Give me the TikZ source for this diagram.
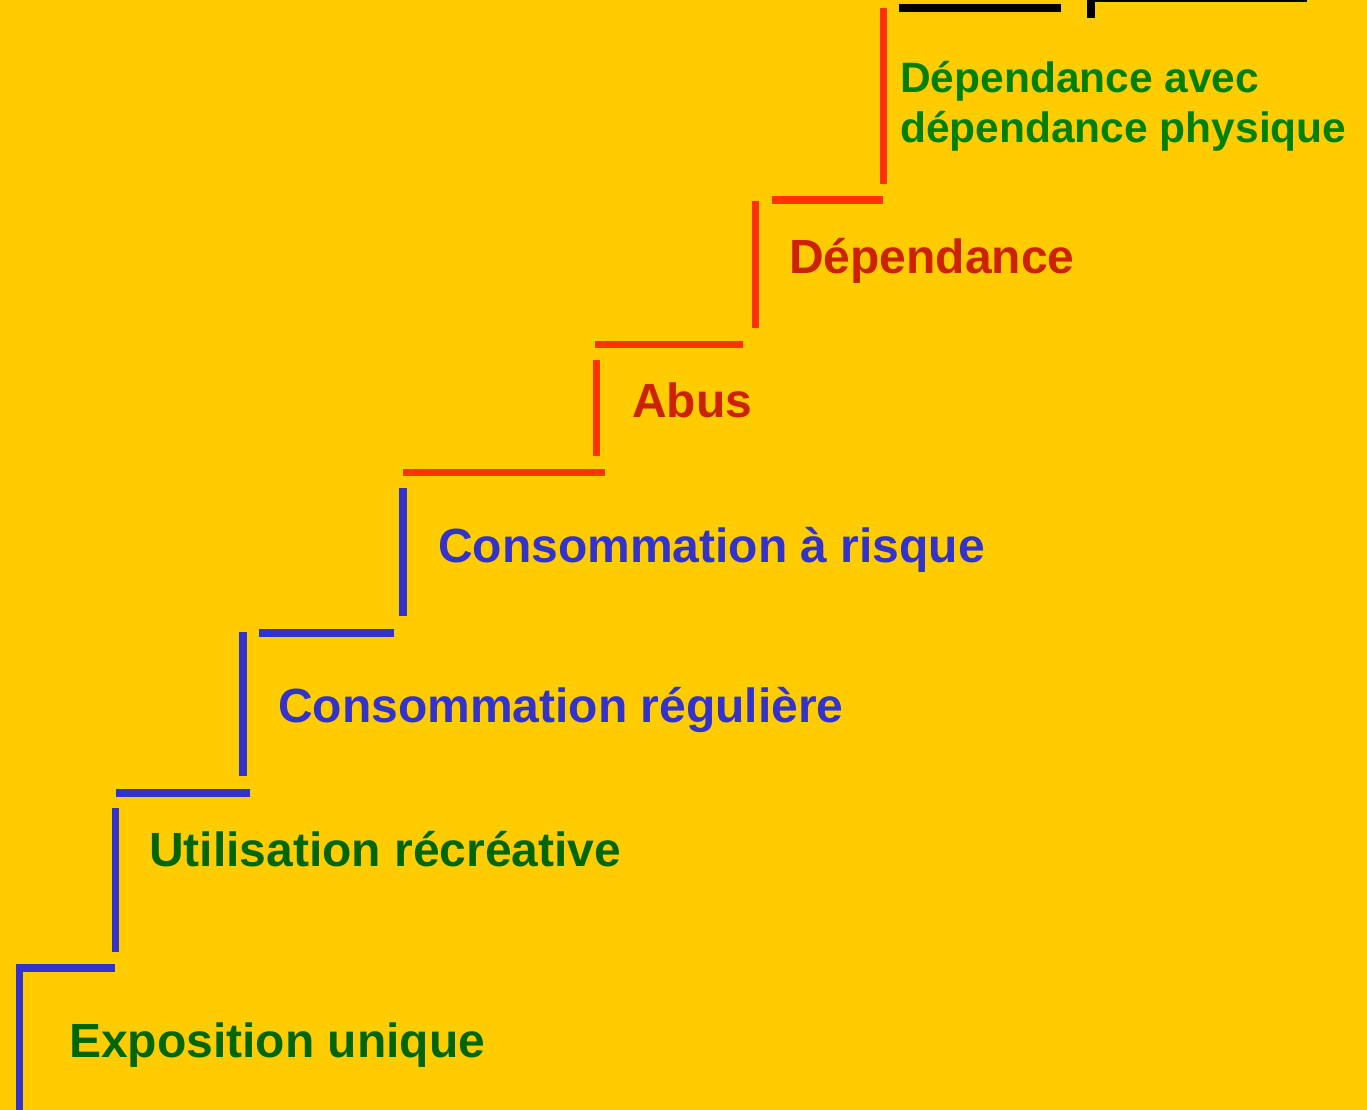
\documentclass[tikz,border=0pt]{standalone}
\usepackage{fontspec}
\setmainfont{Liberation Sans}
\definecolor{bgyellow}{HTML}{FFCC00}
\definecolor{stepblue}{HTML}{3333CC}
\definecolor{stepred}{HTML}{FF3300}
\definecolor{darkgreen}{HTML}{006600}
\definecolor{midgreen}{HTML}{008000}
\definecolor{darkred}{HTML}{CC2200}
\tikzset{
  stairblue/.style={line width=7.5pt,stepblue},
  stairred/.style={line width=7pt,stepred},
  stairblack/.style={line width=8pt,black},
  lbl/.style={anchor=base west,inner sep=0pt,font=\bfseries\fontsize{48}{50}\selectfont},
  lbltop/.style={anchor=base west,inner sep=0pt,align=left,font=\bfseries\fontsize{42.5}{50}\selectfont}
}
\begin{document}
\begin{tikzpicture}[x=1pt,y=-1pt]
\useasboundingbox (0,0) rectangle (1367,1110);
\fill[bgyellow] (0,0) rectangle (1367,1110);
% blue steps
\draw[stairblue] (19.5,965)--(19.5,1115);
\draw[stairblue] (16,968)--(115,968);
\draw[stairblue] (115.5,808)--(115.5,952);
\draw[stairblue] (115.5,793)--(250,793);
\draw[stairblue] (243,632)--(243,776);
\draw[stairblue] (259,633)--(394,633);
\draw[stairblue] (403,488)--(403,616);
% red steps
\draw[stairred] (403,472)--(605,472);
\draw[stairred] (596,360)--(596,456);
\draw[stairred] (595,344)--(743,344);
\draw[stairred] (755.5,201)--(755.5,328);
\draw[stairred] (772,200)--(883,200);
\draw[stairred] (883,8)--(883,184);
% black steps (top, cut off)
\draw[stairblack] (899,8)--(1061,8);
\draw[stairblack] (1091,-5)--(1091,18);
\draw[line width=2pt,black] (1095,-20) rectangle (1306,1.5);
% labels
\node[lbl,darkgreen] (expo) at (69,1057) {Exposition unique};
\node[lbl,darkgreen] (util) at (149,866) {Utilisation récréative};
\node[lbl,stepblue] (regul) at (278,722) {Consommation régulière};
\node[lbl,stepblue] (risque) at (438,562) {Consommation à risque};
\node[lbl,darkred] (abus) at (632,417) {Abus};
\node[lbl,darkred] (dep) at (789,273) {Dépendance};
\node[lbltop,midgreen] (depphys) at (900,143) {Dépendance avec\\dépendance physique};
\end{tikzpicture}
\end{document}
